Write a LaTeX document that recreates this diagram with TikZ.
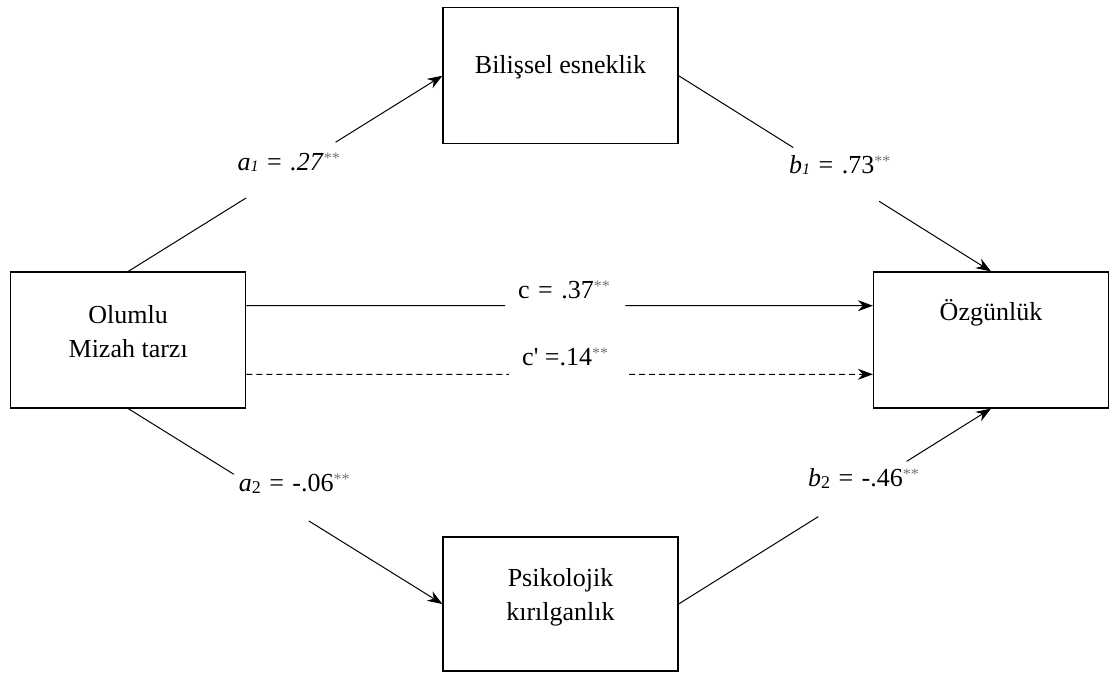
\documentclass[tikz,border=0pt]{standalone}
\usepackage{fontspec}
\setmainfont{Liberation Serif}
\usetikzlibrary{arrows.meta,calc}
\definecolor{stargray}{gray}{0.45}
\newcommand\sigst{\raisebox{7pt}{\fontsize{16}{16}\selectfont\color{stargray}**}}
\newcommand\subi[1]{\raisebox{-1.5pt}{\fontsize{16}{16}\selectfont\itshape #1}}
\newcommand\subu[1]{\raisebox{-2pt}{\fontsize{18}{18}\selectfont #1}}
\newcommand\eqs{\ \kern2pt=\kern2pt\ }
\begin{document}
\begin{tikzpicture}[x=1pt,y=-1pt,
  box/.style={draw, line width=1.2pt, minimum width=235pt, minimum height=136pt, inner sep=0pt},
  txt/.style={font=\fontsize{26}{34}\selectfont, align=center, inner sep=0pt},
  lab/.style={font=\fontsize{26}{34}\selectfont, inner sep=0pt, anchor=base west},
  conn/.style={line width=1pt},
  arr/.style={conn, -{Stealth[length=15pt,width=11pt]}},
  dsh/.style={arr, dash pattern=on 6pt off 4pt}]
\useasboundingbox (0,0) rectangle (1111,672);
% boxes
\node[box] (L) at (128.2,340) {};
\node[box] (T) at (560.5,75.7) {};
\node[box] (R) at (991,340) {};
\node[box, minimum height=134pt] (B) at (560.5,604) {};
% box texts
\node[txt] (Lt) at (128.2,332) {Olumlu\\Mizah tarzı};
\node[txt] (Tt) at (560.5,67.5) {Bilişsel esneklik};
\node[txt] (Rt) at (991,313) {Özgünlük};
\node[txt] (Bt) at (560.5,597) {Psikolojik\\kırılganlık};
% a1
\coordinate (a1s) at ($(L.north)!0.375!(T.west)$);
\coordinate (a1e) at ($(L.north)!0.66!(T.west)$);
\draw[conn] (L.north) -- (a1s);
\draw[arr] (a1e) -- (T.west);
% b1
\coordinate (b1s) at ($(T.east)!0.367!(R.north)$);
\coordinate (b1e) at ($(T.east)!0.642!(R.north)$);
\draw[conn] (T.east) -- (b1s);
\draw[arr] (b1e) -- (R.north);
% a2
\coordinate (a2s) at ($(L.south)!0.336!(B.west)$);
\coordinate (a2e) at ($(L.south)!0.575!(B.west)$);
\draw[conn] (L.south) -- (a2s);
\draw[arr] (a2e) -- (B.west);
% b2
\coordinate (b2s) at ($(B.east)!0.447!(R.south)$);
\coordinate (b2e) at ($(B.east)!0.73!(R.south)$);
\draw[conn] (B.east) -- (b2s);
\draw[arr] (b2e) -- (R.south);
% c
\coordinate (cL) at ($(L.north east)!0.25!(L.south east)$);
\coordinate (cR) at ($(R.north west)!0.25!(R.south west)$);
\coordinate (cs) at ($(cL)!0.413!(cR)$);
\coordinate (ce) at ($(cL)!0.605!(cR)$);
\draw[conn] (cL) -- (cs);
\draw[arr] (ce) -- (cR);
% c'
\coordinate (dL) at ($(L.north east)!0.75!(L.south east)$);
\coordinate (dR) at ($(R.north west)!0.75!(R.south west)$);
\coordinate (ds) at ($(dL)!0.419!(dR)$);
\coordinate (de) at ($(dL)!0.611!(dR)$);
\draw[conn, dash pattern=on 6pt off 4pt] (dL) -- (ds);
\draw[dsh] (de) -- (dR);
% labels
\node[lab] (la1) at (237.5,170) {\textit{a}\subi{1}\eqs\textit{.27}\sigst};
\node[lab] (lb1) at (789,173) {\textit{b}\subi{1}\eqs.73\sigst};
\node[lab] (lc) at (518,298) {c\eqs.37\sigst};
\node[lab] (lcp) at (522,365) {c\textquotesingle{} =.14\sigst};
\node[lab] (la2) at (238.6,491.7) {\textit{a}\subu{2}\eqs-.06\sigst};
\node[lab] (lb2) at (807.9,486.7) {\textit{b}\subu{2}\eqs-.46\sigst};
\end{tikzpicture}
\end{document}
